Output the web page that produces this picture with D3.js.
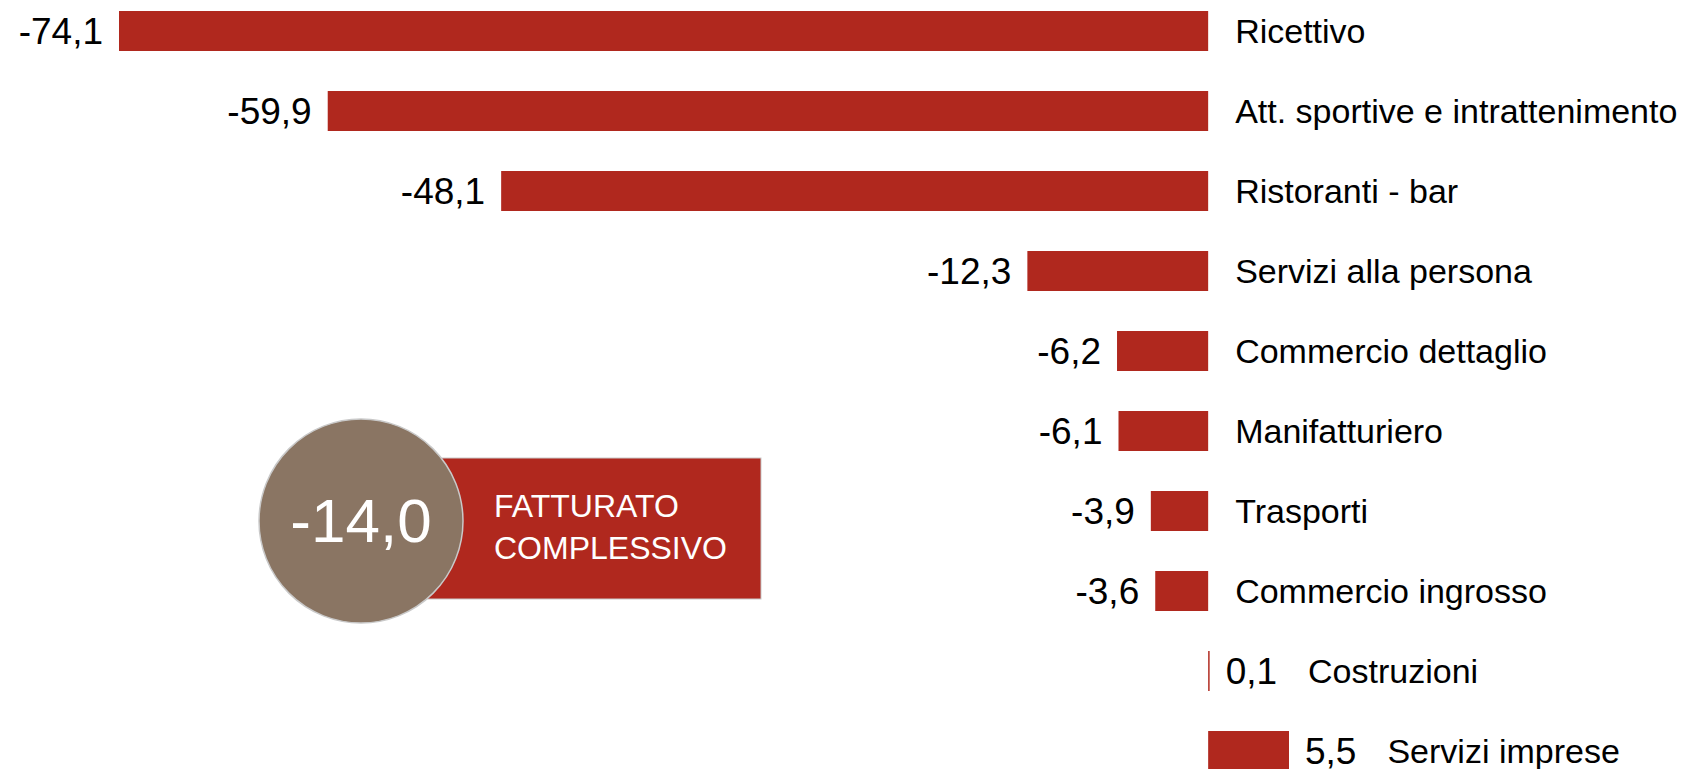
<!DOCTYPE html>
<html>
<head>
<meta charset="utf-8">
<script src="https://cdn.jsdelivr.net/npm/d3@7"></script>
<style>
	html, body { margin: 0; padding: 0; background: #fff; }
	svg { display: block; font-family: "Liberation Sans", Arial, sans-serif; }
</style>
</head>
<body>
<div id="chart"></div>
<script>

// settori, dal calo più forte alla crescita
const sectors = [
	"Ricettivo",
	"Att. sportive e intrattenimento",
	"Ristoranti - bar",
	"Servizi alla persona",
	"Commercio dettaglio",
	"Manifatturiero",
	"Trasporti",
	"Commercio ingrosso",
	"Costruzioni",
	"Servizi imprese"
];

// variazione % del fatturato
const changes = [-74.1, -59.9, -48.1, -12.3, -6.2, -6.1, -3.9, -3.6, 0.1, 5.5];

const totalChange = -14.0;
const totalLabel = ["FATTURATO", "COMPLESSIVO"];

const data = sectors.map((s, i) => ({ sector: s, value: changes[i] }));

class SectorChart {

	constructor(options) {
		this.data = options.data;
		this.element = options.element;
		this.draw();
	}

	draw() {

		this.width = 1689;
		this.height = 769;
		this.red = '#b0281e';
		this.brown = '#8a7563';

		// virgola come separatore decimale
		this.fmt = d3.formatLocale({ decimal: ',', thousands: '.', grouping: [3], currency: ['', '€'], minus: '-' }).format('.1f');

		this.createSVG();
		this.createScales();
		this.createBars();
		this.createLabels();
		this.createTotal();

	}

	createSVG() {
		this.svg = d3.select(this.element)
			.append('svg')
				.attr('width', this.width)
				.attr('height', this.height);
	}

	createScales() {

		this.xScale = d3.scaleLinear()
			.domain(d3.extent(this.data, d => d.value))
			.range([119, 1289]);

		// una riga ogni 80px, barre alte 40px
		this.yScale = d3.scaleBand()
			.domain(this.data.map(d => d.sector))
			.range([-9, 791])
			.paddingInner(0.5)
			.paddingOuter(0.25);

	}

	createBars() {

		const x = this.xScale, y = this.yScale;

		this.svg.append('g')
			.selectAll('rect')
			.data(this.data).enter()
			.append('rect')
				.attr('x', d => x(Math.min(0, d.value)))
				.attr('y', d => y(d.sector))
				.attr('width', d => Math.abs(x(d.value) - x(0)))
				.attr('height', y.bandwidth())
				.attr('fill', this.red);

	}

	createLabels() {

		const x = this.xScale, y = this.yScale, that = this;
		const mid = d => y(d.sector) + y.bandwidth() / 2;

		const values = this.svg.append('g')
			.selectAll('text')
			.data(this.data).enter()
			.append('text')
				.attr('x', d => d.value < 0 ? x(d.value) - 16 : x(d.value) + 16)
				.attr('y', mid)
				.attr('dy', '0.35em')
				.attr('text-anchor', d => d.value < 0 ? 'end' : 'start')
				.attr('font-size', 37)
				.attr('fill', '#000')
				.text(d => that.fmt(d.value));

		// fine del valore per le barre positive
		const ends = [];
		values.each(function(d, i) {
			ends[i] = d.value < 0 ? 0 : +this.getAttribute('x') + this.getComputedTextLength();
		});

		this.svg.append('g')
			.selectAll('text')
			.data(this.data).enter()
			.append('text')
				.attr('x', (d, i) => Math.max(x(0) + 27, ends[i] + 31))
				.attr('y', mid)
				.attr('dy', '0.35em')
				.attr('font-size', 34)
				.attr('fill', '#000')
				.text(d => d.sector);

	}

	createTotal() {

		const g = this.svg.append('g');
		const cx = 361, cy = 521, r = 102;

		g.append('rect')
			.attr('x', cx)
			.attr('y', 458)
			.attr('width', 400)
			.attr('height', 141)
			.attr('fill', this.red)
			.attr('stroke', '#c9c9c9')
			.attr('stroke-width', 1);

		g.append('circle')
			.attr('cx', cx)
			.attr('cy', cy)
			.attr('r', r)
			.attr('fill', this.brown)
			.attr('stroke', '#c9c9c9')
			.attr('stroke-width', 1.5);

		g.append('text')
			.attr('x', cx)
			.attr('y', 542)
			.attr('text-anchor', 'middle')
			.attr('font-size', 62)
			.attr('fill', '#fff')
			.text(this.fmt(totalChange));

		g.selectAll('text.lbl')
			.data(totalLabel).enter()
			.append('text')
				.attr('class', 'lbl')
				.attr('x', 494)
				.attr('y', (d, i) => 517 + i * 42)
				.attr('font-size', 32)
				.attr('fill', '#fff')
				.text(d => d);

	}

}

new SectorChart({ data: data, element: '#chart' });

</script>
</body>
</html>
